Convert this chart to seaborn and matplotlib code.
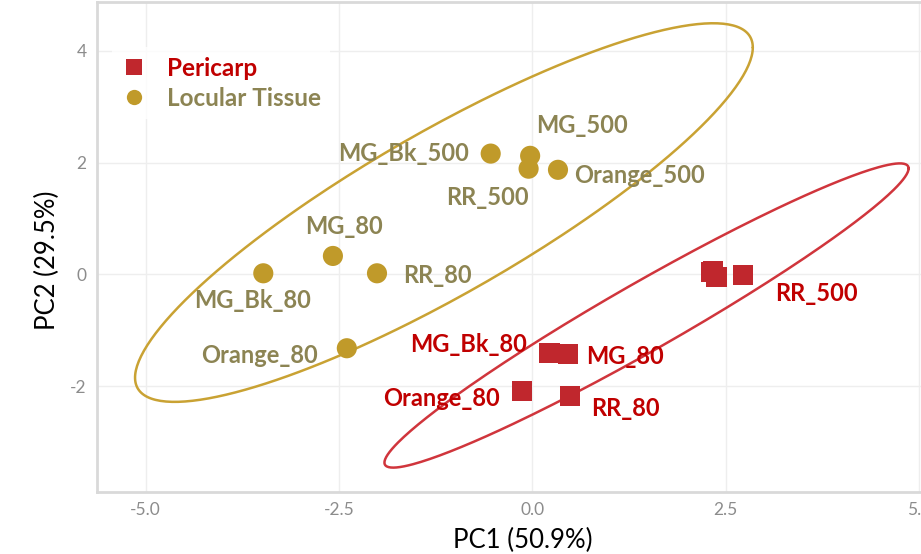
import numpy as np
import pandas as pd
import matplotlib
matplotlib.use("Agg")
import matplotlib.pyplot as plt
from matplotlib.lines import Line2D
import seaborn as sns

# ---------------- data ----------------
samples = ["MG_80", "MG_Bk_80", "Orange_80", "RR_80",
           "MG_500", "MG_Bk_500", "Orange_500", "RR_500"]
pericarp_pc1 = [0.46, 0.22, -0.14, 0.48, 2.38, 2.33, 2.31, 2.72]
pericarp_pc2 = [-1.43, -1.41, -2.09, -2.18, -0.05, 0.06, 0.04, -0.01]
locular_pc1 = [-2.58, -3.48, -2.40, -2.01, -0.03, -0.54, 0.33, -0.05]
locular_pc2 = [0.33, 0.02, -1.32, 0.02, 2.12, 2.16, 1.87, 1.89]
tissues = ["Pericarp", "Locular Tissue"]
x_ticks = [-5.0, -2.5, 0.0, 2.5, 5.0]
y_ticks = [-2, 0, 2, 4]

# ---------------- styling ----------------
marker_colors = {"Pericarp": "#C0272D", "Locular Tissue": "#C09A2A"}
ellipse_colors = {"Pericarp": "#D0353C", "Locular Tissue": "#C9A233"}
text_colors = {"Pericarp": "#C00000", "Locular Tissue": "#8C8453"}
markers = {"Pericarp": "s", "Locular Tissue": "o"}

# label offsets in pixels (dx right, dy up) from the point
label_offsets = {
    "Pericarp": {"RR_500": (74, -19), "MG_Bk_80": (-81, 9), "MG_80": (57, -2),
                 "Orange_80": (-80, -7), "RR_80": (56, -12)},
    "Locular Tissue": {"MG_500": (52, 30), "MG_Bk_500": (-87, 0),
                       "Orange_500": (82, -6), "RR_500": (-41, -29),
                       "MG_80": (11, 29), "RR_80": (60, -2),
                       "MG_Bk_80": (-11, -27), "Orange_80": (-87, -7)},
}

df = pd.DataFrame({
    "PC1": pericarp_pc1 + locular_pc1,
    "PC2": pericarp_pc2 + locular_pc2,
    "Tissue": [tissues[0]] * len(samples) + [tissues[1]] * len(samples),
    "Sample": samples + samples,
})

sns.set_theme(style="whitegrid")
plt.rcParams["font.family"] = ["Lato", "DejaVu Sans"]

fig = plt.figure(figsize=(9.21, 5.54), dpi=100)
ax = fig.add_axes([97 / 921, 1 - 492 / 554, 857 / 921, 490 / 554])


def cov_trob(x, nu=5, maxit=25, tol=0.01):
    """Multivariate-t robust covariance (as MASS::cov.trob)."""
    n, p = x.shape
    wt = np.ones(n)
    loc = x.mean(axis=0)
    w = np.sqrt(wt)
    X = x - loc
    for _ in range(maxit):
        w0 = w
        X = x - loc
        A = np.sqrt(w / w.sum())[:, None] * X
        _, d, vt = np.linalg.svd(A, full_matrices=False)
        wX = X @ vt.T @ np.diag(1 / d)
        Q = (wX ** 2).sum(axis=1)
        w = (wt * (nu + p)) / (nu + Q)
        loc = (w[:, None] * x).sum(axis=0) / w.sum()
        if np.all(np.abs(w - w0) < tol):
            break
    cov = (np.sqrt(w)[:, None] * X).T @ (np.sqrt(w)[:, None] * X) / wt.sum()
    return loc, cov


def ellipse_xy(x, y, radius, n=300):
    pts = np.column_stack([x, y]).astype(float)
    center, shape = cov_trob(pts)
    R = np.linalg.cholesky(shape).T
    t = np.linspace(0, 2 * np.pi, n)
    unit = np.column_stack([np.cos(t), np.sin(t)])
    e = center + radius * (unit @ R)
    return e[:, 0], e[:, 1]


# F(0.95; 2, 7) quantile -> radius sqrt(2 * F)
radius = np.sqrt(2 * 4.737414)

for tis in tissues:
    sub = df[df.Tissue == tis]
    ex, ey = ellipse_xy(sub.PC1.values, sub.PC2.values, radius)
    ax.plot(ex, ey, color=ellipse_colors[tis], lw=1.8, zorder=2)

sns.scatterplot(data=df, x="PC1", y="PC2", hue="Tissue", style="Tissue",
                palette=marker_colors, markers=markers, s=210, linewidth=0,
                ax=ax, zorder=3, legend=False)

for _, r in df.iterrows():
    off = label_offsets[r.Tissue].get(r.Sample)
    if off is None:
        continue
    ax.annotate(r.Sample, xy=(r.PC1, r.PC2), xytext=off,
                textcoords="offset pixels", ha="center", va="center",
                fontsize=17, fontweight="bold", color=text_colors[r.Tissue],
                zorder=4)

# legend
handles = [Line2D([], [], ls="none", marker=markers[t], color=marker_colors[t],
                  markersize=11, markeredgewidth=0) for t in tissues]
leg = ax.legend(handles, tissues, loc="upper left",
                bbox_to_anchor=(0.0175, 0.908), frameon=True, fancybox=False,
                prop={"size": 17.5, "weight": "bold"}, handletextpad=0.85,
                handlelength=1.0, labelspacing=0.28, borderpad=0.4,
                borderaxespad=0)
leg.get_frame().set_facecolor("white")
leg.get_frame().set_edgecolor("none")
for txt, t in zip(leg.get_texts(), tissues):
    txt.set_color(text_colors[t])

ax.set_xlim(-5.63, 5.45)
ax.set_ylim(-3.89, 4.87)
ax.set_xticks(x_ticks)
ax.set_yticks(y_ticks)
ax.set_xticklabels([f"{v:.1f}" for v in x_ticks])
ax.set_yticklabels([f"{v}" for v in y_ticks])
ax.tick_params(colors="#8C8C8C", labelsize=12.5, length=4, width=1,
               labelcolor="#8C8C8C")
ax.grid(True, color="#EEEEEE", lw=1)
for s in ax.spines.values():
    s.set_color("#D9D9D9")
    s.set_linewidth(2)
ax.set_facecolor("white")
ax.set_xlabel("PC1 (50.9%)", fontsize=18.5, color="black")
ax.set_ylabel("PC2 (29.5%)", fontsize=18.5, color="black")
ax.xaxis.label.set_va("center")
ax.yaxis.label.set_va("center")
ax.xaxis.set_label_coords((523 - 97) / 857, (492 - 540) / 490)
ax.yaxis.set_label_coords((47 - 97) / 857, (492 - 260) / 490)

fig.savefig("out.png", dpi=100)
